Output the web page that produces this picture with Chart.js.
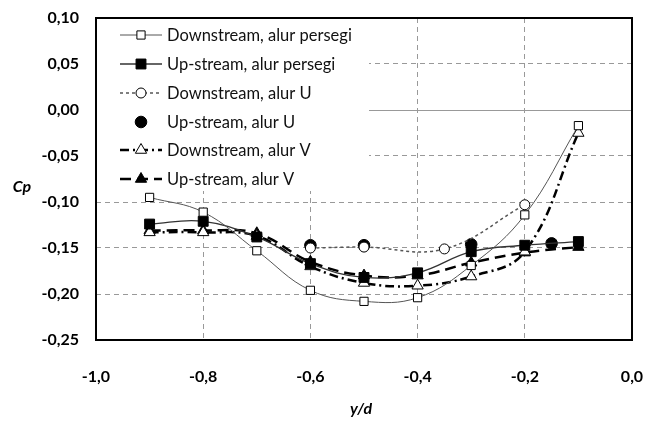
<!DOCTYPE html>
<html>
<head>
<meta charset="utf-8">
<script src="https://cdn.jsdelivr.net/npm/chart.js@4.4.0/dist/chart.umd.min.js"></script>
<style>
  body { margin: 0; background: #fff; }
  #wadah { width: 661px; height: 423px; }
</style>
</head>
<body>
<div id="wadah"><canvas id="grafikCp"></canvas></div>
<script>
// posisi y/d untuk seri lengkap
var posisiY = [-0.9, -0.8, -0.7, -0.6, -0.5, -0.4, -0.3, -0.2, -0.1];

var downPersegi = [-0.095, -0.111, -0.153, -0.196, -0.208, -0.204, -0.169, -0.114, -0.017];
var upPersegi   = [-0.124, -0.121, -0.138, -0.167, -0.182, -0.177, -0.154, -0.147, -0.143];
var downV       = [-0.133, -0.133, -0.137, -0.170, -0.188, -0.191, -0.181, -0.154, -0.025];
var upV         = [-0.131, -0.131, -0.134, -0.165, -0.180, -0.180, -0.166, -0.155, -0.149];

// alur U diukur di titik yang berbeda
var posisiDownU = [-0.6, -0.5, -0.35, -0.2];
var downU       = [-0.150, -0.149, -0.151, -0.103];
var posisiUpU   = [-0.6, -0.5, -0.3, -0.15];
var upU         = [-0.147, -0.147, -0.146, -0.145];

var namaSeri = [
    'Downstream, alur persegi',
    'Up-stream, alur persegi',
    'Downstream, alur U',
    'Up-stream, alur U',
    'Downstream, alur V',
    'Up-stream, alur V'
];

var tickX = [-1.0, -0.8, -0.6, -0.4, -0.2, 0.0];
var tickY = [0.10, 0.05, 0.00, -0.05, -0.10, -0.15, -0.20, -0.25];

function pasangkan(xs, ys) {
    var hasil = [];
    for (var i = 0; i < xs.length; i++) {
        hasil.push({ x: xs[i], y: ys[i] });
    }
    return hasil;
}

function formatKoma(v, d) {
    var s = Math.abs(v) < 1e-9 ? (0).toFixed(d) : v.toFixed(d);
    return s.replace('.', ',');
}

function drawBentuk(c, gaya, r, x, y) {
    if (gaya === 'rect') {
        var s = Math.SQRT1_2 * r;
        c.rect(x - s, y - s, 2 * s, 2 * s);
    } else if (gaya === 'triangle') {
        c.moveTo(x, y - r);
        c.lineTo(x + r * 0.866, y + r * 0.5);
        c.lineTo(x - r * 0.866, y + r * 0.5);
        c.closePath();
    } else {
        c.arc(x, y, r, 0, Math.PI * 2);
    }
}

// legenda, bingkai dan judul sumbu digambar sendiri
var hiasan = {
    id: 'hiasan',
    afterDraw: function(chart) {
        var c = chart.ctx;
        var a = chart.chartArea;

        // legenda dalam kotak putih
        c.save();
        c.fillStyle = '#fff';
        c.fillRect(a.left + 1, a.top + 1, 272, 172);
        var barisY = [35, 64, 93, 122, 150, 179];
        c.font = '16.5px Lato';
        c.textBaseline = 'middle';
        chart.data.datasets.forEach(function(ds, i) {
            var y = barisY[i];
            if (ds.showLine !== false) {
                c.save();
                c.strokeStyle = ds.borderColor;
                c.lineWidth = ds.borderWidth;
                c.setLineDash(ds.borderDash || []);
                c.beginPath();
                c.moveTo(120, y);
                c.lineTo(162, y);
                c.stroke();
                c.restore();
            }
            c.save();
            c.fillStyle = ds.pointBackgroundColor;
            c.strokeStyle = '#000';
            c.lineWidth = ds.pointBorderWidth;
            c.setLineDash([]);
            c.beginPath();
            drawBentuk(c, ds.pointStyle, ds.pointRadius, 141, y);
            c.fill();
            c.stroke();
            c.restore();
            c.fillStyle = '#111';
            c.textAlign = 'left';
            c.fillText(ds.label, 167, y + 1);
        });

        // bingkai area plot
        c.strokeStyle = '#000';
        c.lineWidth = 2;
        c.setLineDash([]);
        c.strokeRect(a.left, a.top, a.right - a.left, a.bottom - a.top);

        // judul sumbu
        c.fillStyle = '#000';
        c.font = 'italic bold 16px Lato';
        c.textAlign = 'center';
        c.fillText('Cp', 22, 187);
        c.fillText('y/d', (a.left + a.right) / 2 - 3, 409);
        c.restore();
    }
};

var gridDash = function(ctx) {
    if (ctx.tick && Math.abs(ctx.tick.value) < 1e-9) {
        return [];
    }
    return [5, 4];
};

var ctx = document.getElementById('grafikCp');
var grafik = new Chart(ctx, {
    type: 'scatter',
    data: {
        datasets: [{
            label: namaSeri[0],
            data: pasangkan(posisiY, downPersegi),
            showLine: true,
            tension: 0.4,
            borderColor: '#555',
            borderWidth: 1,
            pointStyle: 'rect',
            pointRadius: 5.8,
            pointBorderWidth: 1,
            pointBorderColor: '#000',
            pointBackgroundColor: '#fff'
        }, {
            label: namaSeri[1],
            data: pasangkan(posisiY, upPersegi),
            showLine: true,
            tension: 0.4,
            borderColor: '#333',
            borderWidth: 1.3,
            pointStyle: 'rect',
            pointRadius: 7,
            pointBorderWidth: 1,
            pointBorderColor: '#000',
            pointBackgroundColor: '#000'
        }, {
            label: namaSeri[2],
            data: pasangkan(posisiDownU, downU),
            showLine: true,
            tension: 0.4,
            borderColor: '#555',
            borderWidth: 1.5,
            borderDash: [3, 3],
            pointStyle: 'circle',
            pointRadius: 5,
            pointBorderWidth: 1,
            pointBorderColor: '#000',
            pointBackgroundColor: '#fff'
        }, {
            label: namaSeri[3],
            data: pasangkan(posisiUpU, upU),
            showLine: false,
            pointStyle: 'circle',
            pointRadius: 5.8,
            pointBorderWidth: 1,
            pointBorderColor: '#000',
            pointBackgroundColor: '#000'
        }, {
            label: namaSeri[4],
            data: pasangkan(posisiY, downV),
            showLine: true,
            tension: 0.4,
            borderColor: '#000',
            borderWidth: 2.5,
            borderDash: [9, 4, 2, 4],
            pointStyle: 'triangle',
            pointRadius: 6.5,
            pointBorderWidth: 1,
            pointBorderColor: '#000',
            pointBackgroundColor: '#fff'
        }, {
            label: namaSeri[5],
            data: pasangkan(posisiY, upV),
            showLine: true,
            tension: 0.4,
            borderColor: '#000',
            borderWidth: 2.5,
            borderDash: [11, 6],
            pointStyle: 'triangle',
            pointRadius: 6.5,
            pointBorderWidth: 1,
            pointBorderColor: '#000',
            pointBackgroundColor: '#000'
        }]
    },
    options: {
        responsive: true,
        maintainAspectRatio: false,
        animation: false,
        layout: { padding: { top: 18, right: 29, left: 0, bottom: 0 } },
        plugins: {
            legend: { display: false },
            tooltip: { enabled: false }
        },
        scales: {
            x: {
                type: 'linear',
                min: -1.0,
                max: 0.0,
                afterBuildTicks: function(scale) {
                    scale.ticks = tickX.map(function(v) { return { value: v }; });
                },
                afterFit: function(scale) {
                    scale.height = 83;
                    scale.paddingLeft = 0;
                    scale.paddingRight = 0;
                },
                grid: { color: '#999', lineWidth: 1, drawTicks: false },
                border: { display: false, dash: [5, 4] },
                ticks: {
                    padding: 27,
                    color: '#000',
                    maxRotation: 0,
                    font: { family: 'Lato', size: 16, weight: 'bold' },
                    callback: function(v) { return formatKoma(v, 1); }
                }
            },
            y: {
                min: -0.25,
                max: 0.10,
                afterBuildTicks: function(scale) {
                    scale.ticks = tickY.map(function(v) { return { value: v }; });
                },
                afterFit: function(scale) {
                    scale.width = 96;
                    scale.paddingTop = 0;
                    scale.paddingBottom = 0;
                },
                grid: { color: '#999', lineWidth: 1, drawTicks: false },
                border: { display: false, dash: gridDash },
                ticks: {
                    padding: 17,
                    color: '#000',
                    font: { family: 'Lato', size: 16, weight: 'bold' },
                    callback: function(v) { return formatKoma(v, 2); }
                }
            }
        }
    },
    plugins: [hiasan]
});
</script>
</body>
</html>
